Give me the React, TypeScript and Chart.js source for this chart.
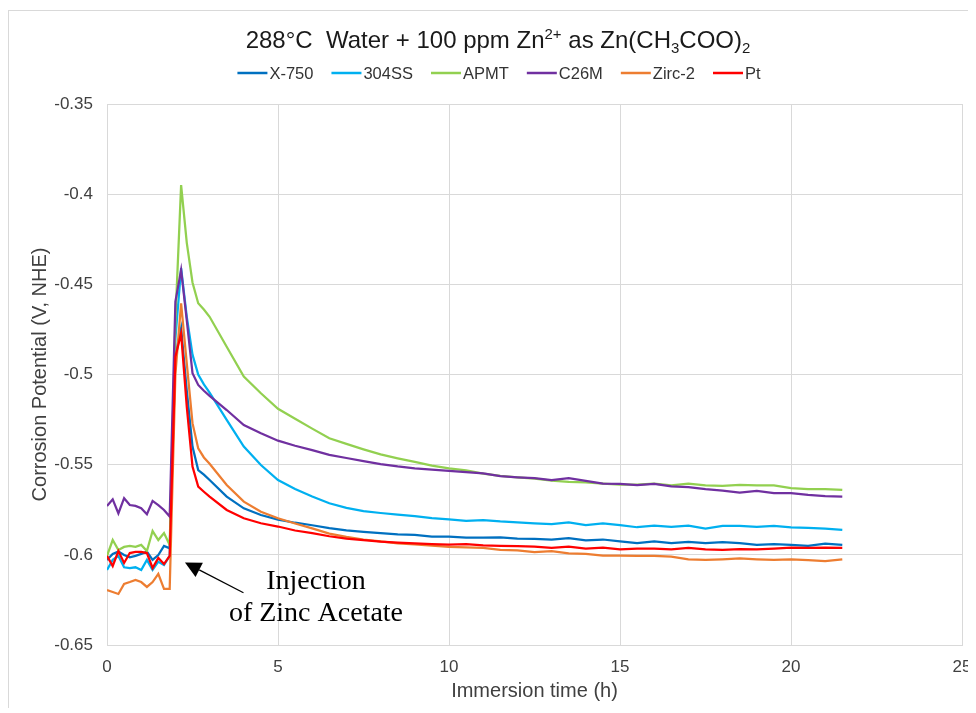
import React, { useEffect, useRef } from "react";
import { Chart, registerables } from "chart.js";
Chart.register(...registerables);

// Immersion time (h)
const times = [
  0, 0.167, 0.333, 0.5, 0.667, 0.833, 1, 1.167, 1.333, 1.5, 1.667, 1.833,
  2, 2.167, 2.333, 2.5, 2.667, 2.833, 3,
  3.5, 4, 4.5, 5, 5.5, 6, 6.5, 7, 7.5, 8, 8.5, 9, 9.5, 10, 10.5, 11, 11.5, 12,
  12.5, 13, 13.5, 14, 14.5, 15, 15.5, 16, 16.5, 17, 17.5, 18, 18.5, 19, 19.5,
  20, 20.5, 21, 21.5,
];

const x750 = [
  -0.6028, -0.5995, -0.5982, -0.6001, -0.6014, -0.6006, -0.5995, -0.5982, -0.6028, -0.6001, -0.5951, -0.5964,
  -0.49, -0.4744, -0.509, -0.54, -0.553, -0.5555, -0.5585,
  -0.5677, -0.5742, -0.5779, -0.5805, -0.5822, -0.5836, -0.5852, -0.5864, -0.5873, -0.588,
  -0.5887, -0.589, -0.5899, -0.5899, -0.5904, -0.5905, -0.5903, -0.591, -0.5912, -0.5915,
  -0.5908, -0.592, -0.5915, -0.5925, -0.5935, -0.5925, -0.5935, -0.5928, -0.5935, -0.593,
  -0.5935, -0.5945, -0.594, -0.5945, -0.595, -0.5938, -0.5945,
];

const ss304 = [
  -0.6084, -0.6028, -0.6006, -0.6069, -0.6074, -0.6069, -0.6084, -0.6028, -0.6084, -0.6038, -0.6056, -0.6006,
  -0.48, -0.441, -0.468, -0.489, -0.5, -0.5055, -0.51,
  -0.5252, -0.54, -0.5502, -0.5585, -0.5635, -0.5677, -0.5714, -0.574, -0.5758, -0.5768,
  -0.5777, -0.5786, -0.5797, -0.5803, -0.5812, -0.5807, -0.5815, -0.582, -0.5825, -0.583,
  -0.582, -0.5835, -0.5825, -0.5835, -0.5847, -0.5838, -0.5845, -0.5838, -0.5855, -0.584,
  -0.584, -0.5845, -0.584, -0.5848, -0.585, -0.5855, -0.5862,
];

const apmt = [
  -0.6006, -0.5918, -0.5973, -0.5956, -0.5951, -0.5956, -0.5945, -0.5979, -0.5868, -0.5918, -0.5879, -0.5945,
  -0.47, -0.395, -0.427, -0.449, -0.4605, -0.464, -0.468,
  -0.4846, -0.5012, -0.5104, -0.519, -0.5245, -0.53, -0.5354, -0.5385, -0.5415, -0.5443,
  -0.5465, -0.5485, -0.5505, -0.552, -0.5532, -0.555, -0.5562, -0.557, -0.5578, -0.5588,
  -0.5595, -0.5598, -0.5605, -0.561, -0.561, -0.5605, -0.5615, -0.5605, -0.5615, -0.5618,
  -0.5612, -0.5615, -0.5615, -0.563, -0.5635, -0.5635, -0.564,
];

const c26m = [
  -0.5729, -0.5692, -0.577, -0.5686, -0.5724, -0.5729, -0.5742, -0.5775, -0.5701, -0.5724, -0.5751, -0.5788,
  -0.4596, -0.442, -0.47, -0.4993, -0.5058, -0.509, -0.5118,
  -0.5197, -0.528, -0.5326, -0.5367, -0.5395, -0.5419, -0.5446, -0.5463, -0.548, -0.5497,
  -0.551, -0.552, -0.5527, -0.5535, -0.5542, -0.5548, -0.5563, -0.557, -0.5575, -0.5585,
  -0.5575, -0.559, -0.5605, -0.5607, -0.5613, -0.5607, -0.562, -0.5625, -0.5636, -0.5644,
  -0.5655, -0.5645, -0.5658, -0.5658, -0.5668, -0.5674, -0.5677,
];

const zirc2 = [
  -0.6195, -0.6206, -0.6217, -0.6162, -0.6151, -0.6139, -0.6151, -0.6178, -0.6151, -0.6106, -0.6189, -0.6189,
  -0.5, -0.4605, -0.494, -0.527, -0.541, -0.546, -0.5495,
  -0.5613, -0.5705, -0.5761, -0.5797, -0.5826, -0.5853, -0.5882, -0.59, -0.5915, -0.5925,
  -0.5936, -0.5942, -0.5949, -0.5956, -0.5958, -0.5962, -0.5973, -0.5975, -0.5985, -0.598,
  -0.5992, -0.5995, -0.6005, -0.6005, -0.6006, -0.6006, -0.601, -0.6025, -0.6028, -0.6025,
  -0.602, -0.6025, -0.6028, -0.6025, -0.603, -0.6035, -0.6025,
];

const pt = [
  -0.6006, -0.6062, -0.5979, -0.6045, -0.599, -0.5984, -0.5984, -0.599, -0.6073, -0.6017, -0.6051, -0.6006,
  -0.4901, -0.4772, -0.518, -0.5511, -0.5622, -0.565, -0.5677,
  -0.5751, -0.5797, -0.5825, -0.5843, -0.5865, -0.588, -0.5897, -0.591, -0.5918, -0.5927,
  -0.5932, -0.5936, -0.594, -0.5944, -0.594, -0.5948, -0.595, -0.5952, -0.5955, -0.5962,
  -0.5955, -0.5965, -0.596, -0.597, -0.5965, -0.5965, -0.597, -0.5962, -0.597, -0.5972,
  -0.5968, -0.597, -0.5965, -0.596, -0.5962, -0.596, -0.5962,
];

const seriesNames = ["X-750", "304SS", "APMT", "C26M", "Zirc-2", "Pt"];
const seriesValues = [x750, ss304, apmt, c26m, zirc2, pt];
const seriesColors = ["#0070C0", "#00B0F0", "#92D050", "#7030A0", "#ED7D31", "#FF0000"];

const xRange = [0, 25, 5];
const yRange = [-0.65, -0.35, 0.05];

const titleParts = [
  { text: "288°C  Water + 100 ppm Zn", kind: 0 },
  { text: "2+", kind: 1 },
  { text: " as Zn(CH", kind: 0 },
  { text: "3", kind: -1 },
  { text: "COO)", kind: 0 },
  { text: "2", kind: -1 },
];
const xTitle = "Immersion time (h)";
const yTitle = "Corrosion Potential (V, NHE)";

// annotation in data coordinates
const arrowTip = [2.28, -0.6043];
const arrowTail = [3.99, -0.621];
const noteLines = ["Injection", "of Zinc Acetate"];
const notePos = [
  [6.11, -0.615],
  [6.11, -0.6328],
];

const FONT = "'Liberation Sans', Arial, sans-serif";

const overlay = {
  id: "overlay",
  afterDraw(chart: any) {
    const ctx = chart.ctx as CanvasRenderingContext2D;
    ctx.save();
    // Title
    const big = `24px ${FONT}`;
    const small = `15px ${FONT}`;
    let total = 0;
    const widths = titleParts.map((p) => {
      ctx.font = p.kind === 0 ? big : small;
      const w = ctx.measureText(p.text).width;
      total += w;
      return w;
    });
    let tx = 489 - total / 2;
    const baseY = 37;
    ctx.fillStyle = "#1a1a1a";
    ctx.textBaseline = "alphabetic";
    ctx.textAlign = "left";
    titleParts.forEach((p, i) => {
      ctx.font = p.kind === 0 ? big : small;
      const dy = p.kind === 1 ? -9 : p.kind === -1 ? 5 : 0;
      ctx.fillText(p.text, tx, baseY + dy);
      tx += widths[i];
    });

    // Legend
    ctx.font = `16.5px ${FONT}`;
    const lineLen = 30;
    const gapText = 2;
    const gapItem = 18;
    const tw = seriesNames.map((n) => ctx.measureText(n).width);
    const legendTotal =
      tw.reduce((a, b) => a + b, 0) + seriesNames.length * (lineLen + gapText) + (seriesNames.length - 1) * gapItem;
    let lx = 490 - legendTotal / 2;
    const ly = 62;
    ctx.textBaseline = "middle";
    seriesNames.forEach((n, i) => {
      ctx.strokeStyle = seriesColors[i];
      ctx.lineWidth = 2.5;
      ctx.beginPath();
      ctx.moveTo(lx, ly);
      ctx.lineTo(lx + lineLen, ly);
      ctx.stroke();
      lx += lineLen + gapText;
      ctx.fillStyle = "#333333";
      ctx.fillText(n, lx, ly + 1);
      lx += tw[i] + gapItem;
    });

    // Annotation
    const xs = chart.scales.x;
    const ys = chart.scales.y;
    const tipX = xs.getPixelForValue(arrowTip[0]);
    const tipY = ys.getPixelForValue(arrowTip[1]);
    const tailX = xs.getPixelForValue(arrowTail[0]);
    const tailY = ys.getPixelForValue(arrowTail[1]);
    const dx = tipX - tailX;
    const dyy = tipY - tailY;
    const len = Math.hypot(dx, dyy);
    const ux = dx / len;
    const uy = dyy / len;
    const headLen = 16;
    const headHalf = 8;
    const bx = tipX - ux * headLen;
    const by = tipY - uy * headLen;
    ctx.strokeStyle = "#000";
    ctx.lineWidth = 1.3;
    ctx.beginPath();
    ctx.moveTo(tailX, tailY);
    ctx.lineTo(bx, by);
    ctx.stroke();
    ctx.fillStyle = "#000";
    ctx.beginPath();
    ctx.moveTo(tipX, tipY);
    ctx.lineTo(bx - uy * headHalf, by + ux * headHalf);
    ctx.lineTo(bx + uy * headHalf, by - ux * headHalf);
    ctx.closePath();
    ctx.fill();

    ctx.font = `28px 'Liberation Serif', 'Times New Roman', serif`;
    ctx.textAlign = "center";
    ctx.textBaseline = "middle";
    noteLines.forEach((t, i) => {
      ctx.fillText(t, xs.getPixelForValue(notePos[i][0]), ys.getPixelForValue(notePos[i][1]));
    });
    ctx.restore();
  },
};

export default function App() {
  const ref = useRef<HTMLCanvasElement | null>(null);
  useEffect(() => {
    document.documentElement.style.overflow = "hidden";
    document.body.style.overflow = "hidden";
    if (!ref.current) return;
    const datasets = seriesNames.map((name, i) => ({
      label: name,
      data: times.map((t, k) => ({ x: t, y: seriesValues[i][k] })),
      borderColor: seriesColors[i],
      backgroundColor: seriesColors[i],
      borderWidth: 2.25,
      pointRadius: 0,
      tension: 0,
      fill: false,
      order: seriesNames.length - 1 - i,
    }));
    const chart = new Chart(ref.current, {
      type: "line",
      data: { datasets },
      options: {
        animation: false,
        responsive: false,
        layout: { padding: { left: 15, right: 13, top: 93, bottom: 0 } },
        plugins: {
          legend: { display: false },
          title: { display: false },
          tooltip: { enabled: false },
        },
        scales: {
          x: {
            type: "linear",
            min: xRange[0],
            max: xRange[1],
            ticks: {
              stepSize: xRange[2],
              padding: 12,
              color: "#404040",
              font: { family: FONT, size: 17 },
              maxRotation: 0,
            },
            grid: { color: "#d9d9d9", drawTicks: false, lineWidth: 1 },
            border: { color: "#d9d9d9" },
            title: {
              display: true,
              text: xTitle,
              color: "#404040",
              font: { family: FONT, size: 20 },
              padding: { top: 4, bottom: 4 },
            },
            afterFit: (s: any) => {
              s.height = 62;
              s.paddingRight = 0;
              s.paddingLeft = 0;
            },
          },
          y: {
            type: "linear",
            min: yRange[0],
            max: yRange[1],
            ticks: {
              stepSize: yRange[2],
              padding: 14,
              color: "#404040",
              font: { family: FONT, size: 17 },
              callback: (v: any) => String(Number(Number(v).toFixed(2))),
            },
            grid: { color: "#d9d9d9", drawTicks: false, lineWidth: 1 },
            border: { color: "#d9d9d9" },
            title: {
              display: true,
              text: yTitle,
              color: "#404040",
              font: { family: FONT, size: 20 },
              padding: { top: 4, bottom: 4 },
            },
            afterFit: (s: any) => {
              s.width = 83;
              s.paddingTop = 0;
              s.paddingBottom = 0;
            },
          },
        },
      },
      plugins: [overlay],
    });
    return () => chart.destroy();
  }, []);

  return (
    <div
      style={{
        position: "relative",
        top: 2,
        width: 966,
        height: 698,
        border: "1px solid #d9d9d9",
        background: "#fff",
      }}
    >
      <canvas ref={ref} width={966} height={696} style={{ display: "block" }} />
    </div>
  );
}
